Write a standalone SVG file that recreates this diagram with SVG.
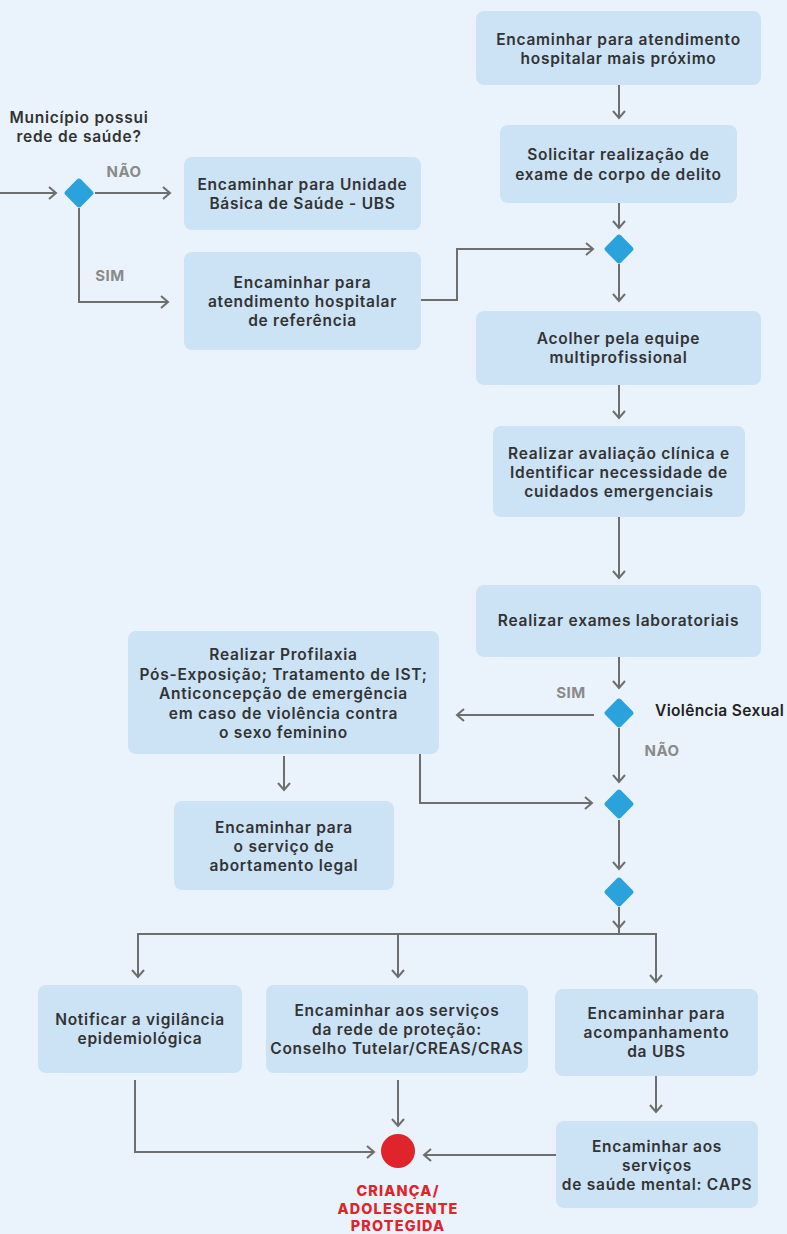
<svg xmlns="http://www.w3.org/2000/svg" width="787" height="1234" viewBox="0 0 787 1234">
<defs>
<style>
.bx{fill:#cce2f5}
.t{font-family:Inter,"Open Sans",sans-serif;font-weight:600;font-size:15.5px;fill:#333333;text-anchor:middle;letter-spacing:0.75px}
.lb{font-family:Inter,"Open Sans",sans-serif;font-weight:700;font-size:15px;fill:#8a8a8a;text-anchor:middle;letter-spacing:0.5px}
.red{font-family:Inter,"Open Sans",sans-serif;font-weight:800;font-size:14.4px;fill:#df242b;text-anchor:middle;letter-spacing:1.2px}
.c{fill:none;stroke:#6e6e6e;stroke-width:2;marker-end:url(#ah)}
.cn{fill:none;stroke:#6e6e6e;stroke-width:2}
.dm{fill:#2aa3dd}
</style>
<marker id="ah" viewBox="-9 -8 11 16" refX="0" refY="0" markerWidth="11" markerHeight="16" markerUnits="userSpaceOnUse" orient="auto">
<path d="M-7,-6 L0,0 L-7,6" fill="none" stroke="#6e6e6e" stroke-width="2"/>
</marker>
<rect id="dia" x="-11" y="-11" width="22" height="22" rx="3" transform="rotate(45)"/>
</defs>
<rect width="787" height="1234" fill="#eaf3fb"/>

<g id="connectors">
<path class="c" d="M0,193 H56"/>
<path class="c" d="M95,193 H170"/>
<path class="c" d="M79,208 V302 H168"/>
<path class="c" d="M421,300 H457 V249 H593"/>
<path class="c" d="M619,85 V118"/>
<path class="c" d="M619,203 V228"/>
<path class="c" d="M619,264 V301"/>
<path class="c" d="M619,385 V418"/>
<path class="c" d="M619,517 V578"/>
<path class="c" d="M619,657 V688"/>
<path class="c" d="M594,715 H457"/>
<path class="c" d="M619,728 V782"/>
<path class="c" d="M420,754 V803 H592"/>
<path class="c" d="M284,756 V790"/>
<path class="c" d="M619,820 V869"/>
<path class="c" d="M619,907 V928"/>
<path class="cn" d="M619,928 V934"/>
<path class="c" d="M619,934 H138 V977"/>
<path class="c" d="M619,934 H656 V982"/>
<path class="c" d="M398,934 V977"/>
<path class="c" d="M135,1080 V1152 H374"/>
<path class="c" d="M398,1080 V1126"/>
<path class="c" d="M556,1155 H424"/>
<path class="c" d="M656,1076 V1112"/>
</g>

<g id="q-municipio">
<text class="t" y="123"><tspan x="79">Município possui</tspan><tspan x="79" dy="19">rede de saúde?</tspan></text>
</g>
<g id="d1"><use href="#dia" class="dm" transform="translate(79,193)"/></g>
<text class="lb" x="124" y="177">NÃO</text>
<text class="lb" x="110" y="281">SIM</text>

<g id="n-hosp-proximo">
<rect class="bx" x="476" y="11" width="285" height="74" rx="8"/>
<text class="t" y="45"><tspan x="618.5">Encaminhar para atendimento</tspan><tspan x="618.5" dy="19">hospitalar mais próximo</tspan></text>
</g>
<g id="n-corpo-delito">
<rect class="bx" x="500" y="125" width="237" height="78" rx="8"/>
<text class="t" y="160"><tspan x="618.5">Solicitar realização de</tspan><tspan x="618.5" dy="20">exame de corpo de delito</tspan></text>
</g>
<g id="n-ubs">
<rect class="bx" x="184" y="157" width="237" height="73" rx="8"/>
<text class="t" y="190"><tspan x="302.5">Encaminhar para Unidade</tspan><tspan x="302.5" dy="19">Básica de Saúde - UBS</tspan></text>
</g>
<g id="n-hosp-ref">
<rect class="bx" x="184" y="252" width="237" height="98" rx="8"/>
<text class="t" y="288"><tspan x="302.5">Encaminhar para</tspan><tspan x="302.5" dy="19">atendimento hospitalar</tspan><tspan x="302.5" dy="19">de referência</tspan></text>
</g>
<g id="d2"><use href="#dia" class="dm" transform="translate(619,249)"/></g>
<g id="n-acolher">
<rect class="bx" x="476" y="311" width="285" height="74" rx="8"/>
<text class="t" y="344"><tspan x="618.5">Acolher pela equipe</tspan><tspan x="618.5" dy="19">multiprofissional</tspan></text>
</g>
<g id="n-avaliacao">
<rect class="bx" x="493" y="426" width="252" height="91" rx="8"/>
<text class="t" y="459"><tspan x="619">Realizar avaliação clínica e</tspan><tspan x="619" dy="19">Identificar necessidade de</tspan><tspan x="619" dy="19">cuidados emergenciais</tspan></text>
</g>
<g id="n-exames">
<rect class="bx" x="476" y="585" width="285" height="72" rx="8"/>
<text class="t" x="618.5" y="626">Realizar exames laboratoriais</text>
</g>
<g id="d3"><use href="#dia" class="dm" transform="translate(619,713)"/></g>
<text class="t" x="655" y="716" style="text-anchor:start;fill:#222;letter-spacing:0.35px">Violência Sexual</text>
<text class="lb" x="571" y="698">SIM</text>
<text class="lb" x="662" y="756">NÃO</text>
<g id="n-profilaxia">
<rect class="bx" x="128" y="631" width="311" height="123" rx="8"/>
<text class="t" y="660"><tspan x="283.5">Realizar Profilaxia</tspan><tspan x="283.5" dy="19.5">Pós-Exposição; Tratamento de IST;</tspan><tspan x="283.5" dy="19.5">Anticoncepção de emergência</tspan><tspan x="283.5" dy="19.5">em caso de violência contra</tspan><tspan x="283.5" dy="19.5">o sexo feminino</tspan></text>
</g>
<g id="n-abortamento">
<rect class="bx" x="174" y="801" width="220" height="89" rx="8"/>
<text class="t" y="833"><tspan x="284">Encaminhar para</tspan><tspan x="284" dy="19">o serviço de</tspan><tspan x="284" dy="19">abortamento legal</tspan></text>
</g>
<g id="d4"><use href="#dia" class="dm" transform="translate(619,804)"/></g>
<g id="d5"><use href="#dia" class="dm" transform="translate(619,892)"/></g>
<g id="n-notificar">
<rect class="bx" x="38" y="985" width="204" height="88" rx="8"/>
<text class="t" y="1025"><tspan x="140">Notificar a vigilância</tspan><tspan x="140" dy="19">epidemiológica</tspan></text>
</g>
<g id="n-rede-protecao">
<rect class="bx" x="266" y="985" width="262" height="88" rx="8"/>
<text class="t" y="1016"><tspan x="397">Encaminhar aos serviços</tspan><tspan x="397" dy="19">da rede de proteção:</tspan><tspan x="397" dy="19">Conselho Tutelar/CREAS/CRAS</tspan></text>
</g>
<g id="n-acomp-ubs">
<rect class="bx" x="555" y="989" width="203" height="87" rx="8"/>
<text class="t" y="1019"><tspan x="656.5">Encaminhar para</tspan><tspan x="656.5" dy="19">acompanhamento</tspan><tspan x="656.5" dy="19">da UBS</tspan></text>
</g>
<g id="n-caps">
<rect class="bx" x="556" y="1121" width="202" height="87" rx="8"/>
<text class="t" y="1152"><tspan x="657">Encaminhar aos</tspan><tspan x="657" dy="19">serviços</tspan><tspan x="657" dy="19">de saúde mental: CAPS</tspan></text>
</g>
<g id="end">
<circle cx="398" cy="1151" r="17" fill="#df242b"/>
<text class="red" y="1196"><tspan x="398">CRIANÇA/</tspan><tspan x="398" dy="17.5">ADOLESCENTE</tspan><tspan x="398" dy="17.5">PROTEGIDA</tspan></text>
</g>
</svg>
